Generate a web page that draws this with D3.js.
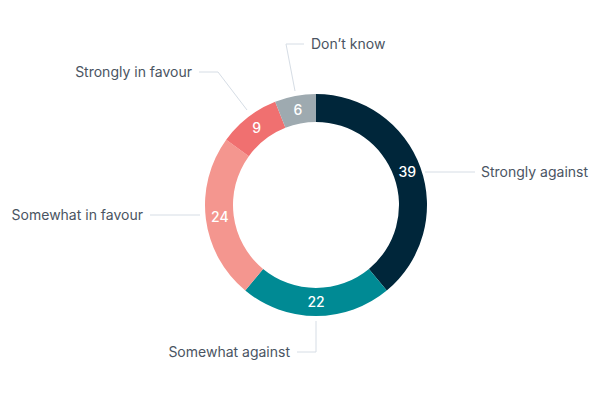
<!DOCTYPE html>
<html>
<head>
<meta charset="utf-8">
<script src="https://cdn.jsdelivr.net/npm/d3@7"></script>
<style>
  html, body { margin: 0; padding: 0; background: #ffffff; }
  svg { display: block; }
</style>
</head>
<body>
<svg id="chart" width="600" height="400"></svg>
<script>
// ---- Data ----
const categories = ["Strongly against", "Somewhat against", "Somewhat in favour", "Strongly in favour", "Don\u2019t know"];
const values = [39, 22, 24, 9, 6];
const colors = ["#00263a", "#008a94", "#f4968f", "#f07070", "#9eaab0"];

// ---- Layout ----
const width = 600, height = 400;
const cx = 316, cy = 205;
const outerR = 111, innerR = 83;
// label layout (relative to centre): connector elbow points and label anchor
const labelLayout = [
  { pts: [[109, -33], [159, -33]], tx: 165, ty: -33, anchor: "start" },
  { pts: [[0, 116], [0, 147], [-19, 147]], tx: -26, ty: 147, anchor: "end" },
  { pts: [[-116, 10], [-166, 10]], tx: -173, ty: 10, anchor: "end" },
  { pts: [[-69, -95], [-98, -133], [-117, -133]], tx: -124, ty: -133, anchor: "end" },
  { pts: [[-21, -114], [-30, -161], [-12, -161]], tx: -5, ty: -161, anchor: "start" }
];

const svg = d3.select("#chart");
const g = svg.append("g").attr("transform", `translate(${cx},${cy})`);

const pie = d3.pie().sort(null).value(d => d.value);
const data = categories.map((c, i) => ({ name: c, value: values[i], color: colors[i], i }));
const arcs = pie(data);

const arc = d3.arc().innerRadius(innerR).outerRadius(outerR);
const labelArc = d3.arc().innerRadius((innerR + outerR) / 2).outerRadius((innerR + outerR) / 2);

// connectors
const line = d3.line();
g.selectAll("path.conn")
  .data(arcs)
  .join("path")
  .attr("class", "conn")
  .attr("d", d => line(labelLayout[d.index].pts))
  .attr("fill", "none")
  .attr("stroke", "#d6dde5")
  .attr("stroke-width", 1);

// slices
g.selectAll("path.slice")
  .data(arcs)
  .join("path")
  .attr("class", "slice")
  .attr("d", arc)
  .attr("fill", d => d.data.color);

// value labels
g.selectAll("text.val")
  .data(arcs)
  .join("text")
  .attr("class", "val")
  .attr("transform", d => `translate(${labelArc.centroid(d)})`)
  .attr("text-anchor", "middle")
  .attr("dy", "0.35em")
  .attr("fill", "#ffffff")
  .attr("font-family", "Inter, 'Open Sans', sans-serif")
  .attr("font-size", 14)
  .attr("font-weight", 500)
  .text(d => d.data.value);

// category labels
g.selectAll("text.cat")
  .data(arcs)
  .join("text")
  .attr("class", "cat")
  .attr("x", d => labelLayout[d.index].tx)
  .attr("y", d => labelLayout[d.index].ty)
  .attr("text-anchor", d => labelLayout[d.index].anchor)
  .attr("dy", "0.35em")
  .attr("fill", "#4a5462")
  .attr("font-family", "Inter, 'Open Sans', sans-serif")
  .attr("font-size", 14)
  .text(d => d.data.name);
</script>
</body>
</html>
